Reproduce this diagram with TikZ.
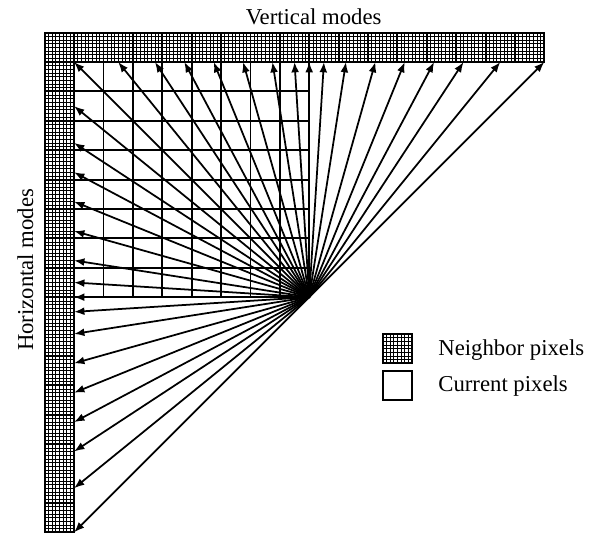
\documentclass[tikz,border=0pt]{standalone}
\usepackage{fontspec}
\setmainfont{Liberation Serif}
\usetikzlibrary{arrows.meta}

\begin{document}
\begin{tikzpicture}[x=0.5cm,y=0.5cm,
	cellline/.style={line width=0.9pt},
	finegrid/.style={line width=0.3pt,step={(0.125,0.125)}},
	mode/.style={line width=0.85pt,-{Latex[length=5pt,width=3.8pt]}},
	every node/.style={font=\fontsize{11}{13}\selectfont,inner sep=0pt}]

	\useasboundingbox (-2.52,2.11) rectangle (17.62,-16.09);

	% neighbor pixels: top row and left column
	\foreach \i in {-1,...,15}{
		\draw[finegrid] (\i,0) grid (\i+1,1);
		\draw[cellline] (\i,0) rectangle (\i+1,1);
	}
	\foreach \j in {1,...,16}{
		\draw[finegrid] (-1,-\j) grid (0,-\j+1);
		\draw[cellline] (-1,-\j) rectangle (0,-\j+1);
	}

	% current 8x8 block
	\draw[cellline,step={(1,1)}] (0,0) grid (8,-8);

	% angular modes
	\coordinate (o) at (8,-8);
	\foreach \a [count=\i] in {-32,-26,-21,-17,-13,-9,-5,-2,0,2,5,9,13,17,21,26,32}{
		\coordinate (v\i) at ({8+\a/4},0);
		\draw[mode] (o) -- (v\i);
	}
	\foreach \a [count=\i] in {-26,-21,-17,-13,-9,-5,-2,0,2,5,9,13,17,21,26,32}{
		\coordinate (h\i) at (0,{-8-\a/4});
		\draw[mode] (o) -- (h\i);
	}

	\node[anchor=base] (vlabel) at (8.15,1.26) {Vertical modes};
	\node[rotate=90,anchor=base] (hlabel) at (-1.39,-7.07) {Horizontal modes};

	% legend
	\draw[finegrid] (10.5,-9.25) grid (11.5,-10.25);
	\draw[cellline] (10.5,-9.25) rectangle (11.5,-10.25);
	\draw[cellline] (10.5,-10.5) rectangle (11.5,-11.5);
	\node[anchor=base west] (nbrtext) at (12.38,-9.97) {Neighbor pixels};
	\node[anchor=base west] (curtext) at (12.38,-11.22) {Current pixels};
\end{tikzpicture}
\end{document}
